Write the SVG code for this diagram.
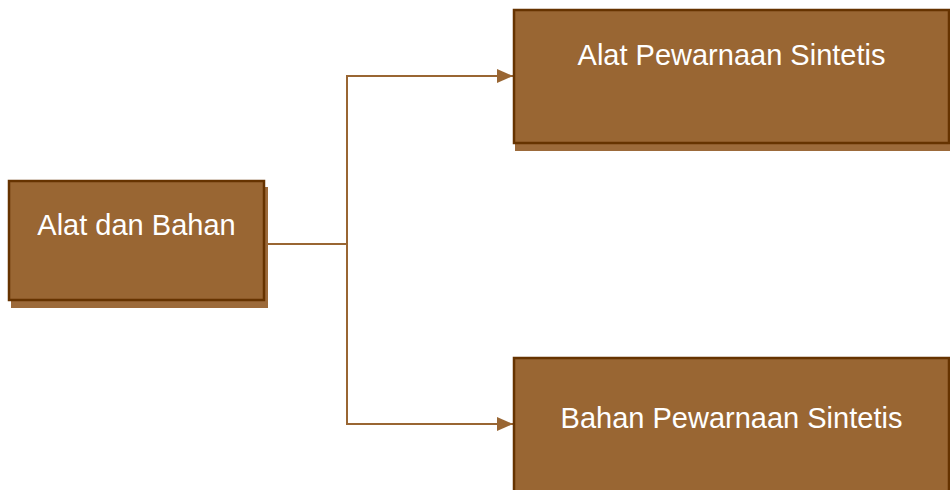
<svg xmlns="http://www.w3.org/2000/svg" width="950" height="490" viewBox="0 0 950 490">
  <style>
    .shadow { fill: #9c6a3a; }
    .box { fill: #996633; stroke: #663300; stroke-width: 2.5; }
    .label { fill: #ffffff; font-family: "Liberation Sans", Arial, sans-serif; font-size: 29px; text-anchor: middle; }
    .conn { fill: none; stroke: #996633; stroke-width: 2; }
  </style>
  <defs>
    <marker id="arrow" viewBox="0 0 16 14" refX="16" refY="7" markerWidth="16" markerHeight="14" markerUnits="userSpaceOnUse" orient="auto">
      <path d="M0,0 L16,7 L0,14 Z" fill="#996633"/>
    </marker>
  </defs>
  <rect width="950" height="490" fill="#ffffff"/>
  <g id="connectors">
    <path class="conn" d="M265,244 H347"/>
    <path class="conn" d="M347,244 V76 H513" marker-end="url(#arrow)"/>
    <path class="conn" d="M347,244 V424 H513" marker-end="url(#arrow)"/>
  </g>
  <g id="node-alat-dan-bahan">
    <rect class="shadow" x="11" y="187" width="257" height="121"/>
    <rect class="box" x="9" y="181" width="255" height="119"/>
    <text class="label" x="136.5" y="235">Alat dan Bahan</text>
  </g>
  <g id="node-alat-pewarnaan">
    <rect class="shadow" x="515" y="16" width="440" height="135"/>
    <rect class="box" x="514" y="10" width="435" height="133"/>
    <text class="label" x="731.5" y="65">Alat Pewarnaan Sintetis</text>
  </g>
  <g id="node-bahan-pewarnaan">
    <rect class="shadow" x="515" y="364" width="440" height="140"/>
    <rect class="box" x="514" y="358" width="435" height="140"/>
    <text class="label" x="731.5" y="428">Bahan Pewarnaan Sintetis</text>
  </g>
</svg>
